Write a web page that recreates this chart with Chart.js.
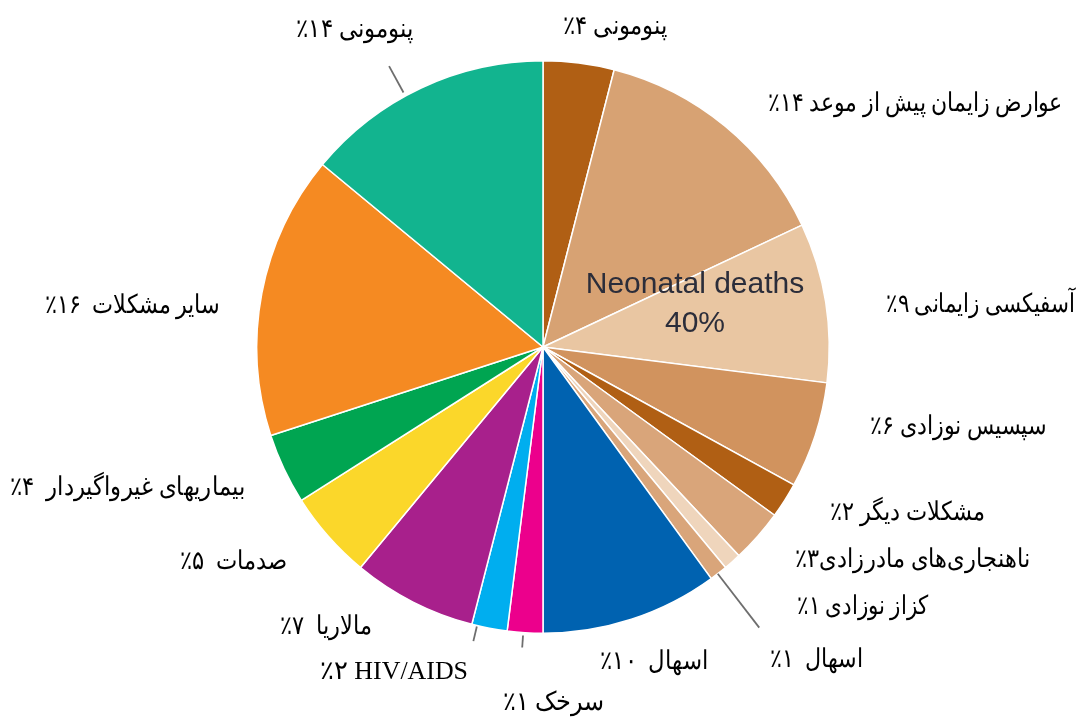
<!DOCTYPE html>
<html>
<head>
<meta charset="utf-8">
<script src="https://cdn.jsdelivr.net/npm/chart.js@4.4.1/dist/chart.umd.min.js"></script>
<style>
html,body{margin:0;padding:0;background:#fff;}
#wrap{width:1080px;height:719px;}
</style>
</head>
<body>
<div id="wrap"><canvas id="c" width="1080" height="719"></canvas></div>
<script>
// Data (percent of deaths), clockwise from top
const categories = [
  'پنومونی', 'عوارض زایمان پیش از موعد', 'آسفیکسی زایمانی', 'سپسیس نوزادی',
  'مشکلات دیگر', 'ناهنجاری‌های مادرزادی', 'کزاز نوزادی', 'اسهال (نوزادی)',
  'اسهال', 'سرخک', 'HIV/AIDS', 'مالاریا', 'صدمات', 'بیماریهای غیرواگیردار',
  'سایر مشکلات', 'پنومونی'
];
const values = [4, 14, 9, 6, 2, 3, 1, 1, 10, 2, 2, 7, 5, 4, 16, 14];
const labelTexts = [
  'پنومونی ۴٪', 'عوارض زایمان پیش از موعد ۱۴٪', 'آسفیکسی زایمانی ۹٪', 'سپسیس نوزادی ۶٪',
  'مشکلات دیگر ۲٪', 'ناهنجاری‌های مادرزادی۳٪', 'کزاز نوزادی ۱٪', 'اسهال  ۱٪',
  'اسهال  ۱۰٪', 'سرخک ۱٪', 'HIV/AIDS \u061C۲٪', 'مالاریا  ۷٪', 'صدمات  ۵٪', 'بیماریهای غیرواگیردار  ۴٪',
  'سایر مشکلات  ۱۶٪', 'پنومونی ۱۴٪'
];
const centerLines = ['Neonatal deaths', '40%'];

const colors = ['#b05f14','#d7a273','#e9c6a2','#d1935e','#b05f14','#d9a57a','#efd5bc','#d9a57a',
  '#0062b0','#ec008c','#00aeef','#a8208c','#fbd72a','#00a551','#f58a22','#12b48f'];

// label anchors: right edge x, center y
const labelPos = [
  [667,27],[1063,104],[1075,305],[1047,427],
  [985,513],[1030,560],[928,607],[863,660],
  [708,662],[604,703],[468,672],[372,627],[287,562],[245,488],
  [220,306],[413,30]
];
const labelWidths = [104,295,189,177,155,235,131,93,108,101,148,92,107,235,175,117];

// leader lines: slice index, fraction within slice, r offsets from outer radius
const leaders = [[15,0.43,4,34],[7,0.55,0,68],[9,0.55,3,15],[10,0.85,1,16]];

const overlay = {
  id:'overlay',
  afterDraw(chart){
    const ctx = chart.ctx;
    const meta = chart.getDatasetMeta(0);
    ctx.save();
    ctx.strokeStyle = '#6e6e6e';
    ctx.lineWidth = 1.8;
    leaders.forEach(([i,f,r1,r2])=>{
      const arc = meta.data[i];
      const a = arc.startAngle + (arc.endAngle-arc.startAngle)*f;
      const R = arc.outerRadius;
      ctx.beginPath();
      ctx.moveTo(arc.x + (R+r1)*Math.cos(a), arc.y + (R+r1)*Math.sin(a));
      ctx.lineTo(arc.x + (R+r2)*Math.cos(a), arc.y + (R+r2)*Math.sin(a));
      ctx.stroke();
    });
    // labels
    ctx.fillStyle = '#000';
    ctx.textBaseline = 'middle';
    ctx.direction = 'rtl';
    ctx.textAlign = 'right';
    ctx.font = "26px 'Liberation Serif', 'DejaVu Serif', serif";
    labelTexts.forEach((t,i)=>{
      const [x,y] = labelPos[i];
      const w = ctx.measureText(t).width;
      const s = labelWidths[i]/w;
      ctx.save();
      ctx.translate(x,y);
      ctx.scale(s,1);
      ctx.fillText(t,0,0);
      ctx.restore();
    });
    // center text
    ctx.direction = 'ltr';
    ctx.textAlign = 'center';
    ctx.fillStyle = '#2b2d3a';
    ctx.font = "30px 'Liberation Sans', Arial, sans-serif";
    ctx.fillText(centerLines[0], 695, 285);
    ctx.fillText(centerLines[1], 695, 324);
    ctx.restore();
  }
};

new Chart(document.getElementById('c'), {
  type:'pie',
  data:{labels:categories, datasets:[{data:values, backgroundColor:colors, borderColor:'#ffffff', borderWidth:1.5}]},
  options:{
    responsive:false, animation:false,
    layout:{padding:{top:60,bottom:85,left:6,right:0}},
    plugins:{legend:{display:false}, tooltip:{enabled:false}},
    events:[]
  },
  plugins:[overlay]
});
</script>
</body>
</html>
